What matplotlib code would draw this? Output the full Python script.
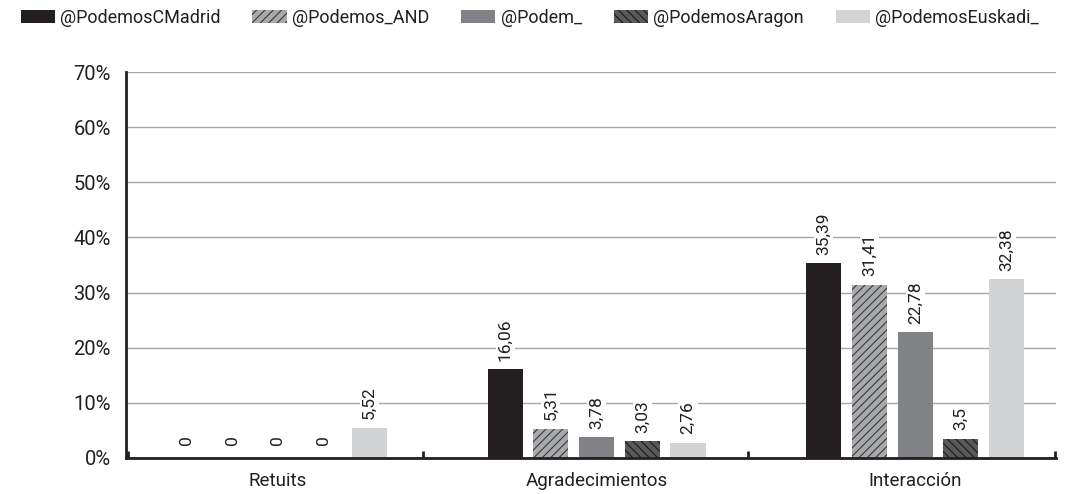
import numpy as np
import matplotlib
matplotlib.use('Agg')
from matplotlib import pyplot as plt
from matplotlib.ticker import FuncFormatter

CATEGORIES = ['Retuits', 'Agradecimientos', 'Interacción']
SERIES = ['@PodemosCMadrid', '@Podemos_AND', '@Podem_', '@PodemosAragon', '@PodemosEuskadi_']
MADRID = [0, 16.06, 35.39]
AND = [0, 5.31, 31.41]
PODEM = [0, 3.78, 22.78]
ARAGON = [0, 3.03, 3.5]
EUSKADI = [5.52, 2.76, 32.38]

# face colour, hatch, hatch colour
STYLES = [
    ('#231f20', None, '#231f20'),
    ('#a7a9ac', '////', '#3a3a3a'),
    ('#808285', None, '#808285'),
    ('#58595b', '\\\\\\\\', '#1a1a1a'),
    ('#d1d3d4', None, '#d1d3d4'),
]

BAR_STEP = 0.1435
BAR_WIDTH = 0.11


def fmt_value(v):
    return f'{v:g}'.replace('.', ',')


def main():
    plt.rcParams['font.family'] = ['Roboto', 'DejaVu Sans']
    plt.rcParams['hatch.linewidth'] = 0.8

    figure = plt.figure(figsize=(10.68, 4.94), dpi=100)
    axis = figure.add_axes([0.118, 0.073, 0.871, 0.781])

    values = [MADRID, AND, PODEM, ARAGON, EUSKADI]
    x = np.arange(len(CATEGORIES))

    for i, (name, series) in enumerate(zip(SERIES, values)):
        face, hatch, hatch_color = STYLES[i]
        offset = (i - 2) * BAR_STEP
        bars = axis.bar(x + offset, series, BAR_WIDTH, color=face, edgecolor=hatch_color,
                        hatch=hatch, linewidth=0, label=name, zorder=3)
        for bar, v in zip(bars, series):
            axis.annotate(fmt_value(v), (bar.get_x() + bar.get_width() / 2, bar.get_height()),
                          xytext=(0, 6 if v > 0 else 9), textcoords='offset points',
                          rotation=90, ha='center', va='bottom', fontsize=12.5, color='#231f20',
                          zorder=4,
                          bbox=dict(boxstyle='square,pad=0.12', facecolor='white', edgecolor='none'))

    axis.set_ylim(0, 70)
    axis.set_yticks(range(0, 71, 10))
    axis.yaxis.set_major_formatter(FuncFormatter(lambda v, p: f'{v:.0f}%'))
    axis.grid(axis='y', color='#a6a6a6', linewidth=1.0, zorder=0)
    axis.tick_params(axis='y', length=0, labelsize=14.5, colors='#231f20', pad=11)

    axis.set_xlim(-0.477, 2.443)
    axis.set_xticks(x)
    axis.set_xticklabels(CATEGORIES)
    axis.tick_params(axis='x', length=0, labelsize=13.5, colors='#231f20', pad=10)
    axis.set_xticks([-0.472, 0.455, 1.476, 2.438], minor=True)
    axis.tick_params(axis='x', which='minor', length=5, width=2, direction='in', color='#231f20')

    for side in ('top', 'right'):
        axis.spines[side].set_visible(False)
    for side in ('left', 'bottom'):
        axis.spines[side].set_linewidth(2)
        axis.spines[side].set_color('#231f20')
        axis.spines[side].set_zorder(5)

    figure.legend(loc='upper left', bbox_to_anchor=(0.004, 1.015), ncol=5, frameon=False,
                  fontsize=13, handlelength=1.9, handleheight=0.8, handletextpad=0.3,
                  columnspacing=1.75, labelcolor='#231f20')

    figure.savefig('out.png', dpi=100)


if __name__ == "__main__":
    main()
